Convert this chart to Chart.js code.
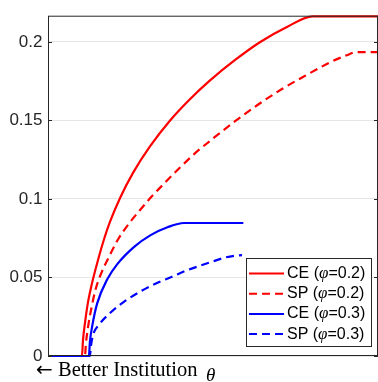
<!DOCTYPE html>
<html>
<head>
<meta charset="utf-8">
<script src="https://cdn.jsdelivr.net/npm/chart.js@4/dist/chart.umd.min.js"></script>
<style>
html, body { margin: 0; padding: 0; background: #fff; }
</style>
</head>
<body>
<canvas id="myChart" width="378" height="382"></canvas>
<script>
// theta positions (0 = left edge, 1 = right edge) and values
const ceLowTheta = [0, 0.103, 0.106, 0.112, 0.121, 0.133, 0.152, 0.170, 0.188, 0.218, 0.258, 0.309, 0.370, 0.430, 0.491, 0.567, 0.642, 0.724, 0.802, 1];
const ceLowValues = [0, 0, 0.010, 0.021, 0.034, 0.046, 0.0615, 0.0745, 0.0855, 0.1005, 0.1168, 0.1335, 0.150, 0.1635, 0.1755, 0.1885, 0.1998, 0.2095, 0.2163, 0.2163];

const spLowTheta = [0, 0.112, 0.115, 0.121, 0.132, 0.145, 0.163, 0.188, 0.213, 0.246, 0.279, 0.314, 0.355, 0.400, 0.445, 0.500, 0.567, 0.636, 0.709, 0.784, 0.855, 0.905, 0.933, 1];
const spLowValues = [0, 0, 0.008, 0.018, 0.031, 0.043, 0.0535, 0.0645, 0.0745, 0.0845, 0.093, 0.1015, 0.1105, 0.120, 0.129, 0.1385, 0.1495, 0.160, 0.170, 0.179, 0.187, 0.1915, 0.1935, 0.1935];

const ceHighTheta = [0, 0.124, 0.127, 0.134, 0.149, 0.180, 0.210, 0.261, 0.311, 0.362, 0.412, 0.592];
const ceHighValues = [0, 0, 0.009, 0.019, 0.0335, 0.049, 0.0585, 0.0695, 0.077, 0.082, 0.0847, 0.0847];

const spHighTheta = [0, 0.127, 0.130, 0.136, 0.155, 0.189, 0.230, 0.279, 0.327, 0.376, 0.418, 0.461, 0.497, 0.533, 0.564, 0.588];
const spHighValues = [0, 0, 0.006, 0.013, 0.020, 0.0275, 0.0345, 0.041, 0.0462, 0.0505, 0.0543, 0.0575, 0.060, 0.0625, 0.0638, 0.0642];

const seriesLabels = ['CE (φ=0.2)', 'SP (φ=0.2)', 'CE (φ=0.3)', 'SP (φ=0.3)'];
const yTickValues = [0, 0.05, 0.1, 0.15, 0.2];
const yTickLabels = ['0', '0.05', '0.1', '0.15', '0.2'];
const yMax = 0.2167;

const dash = [8, 5];

function toPoints(xs, ys) {
    return xs.map((x, i) => ({ x: x, y: ys[i] }));
}

// frame, inward ticks, legend box and the bottom caption
const extrasPlugin = {
    id: 'extras',
    afterDraw(chart) {
        const ctx = chart.ctx;
        const a = chart.chartArea;
        const y = chart.scales.y;
        ctx.save();

        // box around the axes
        ctx.strokeStyle = '#262626';
        ctx.lineWidth = 1;
        ctx.strokeRect(a.left + 0.5, a.top + 0.5, a.right - a.left - 1, a.bottom - a.top - 1);

        // ticks pointing inwards on both sides
        yTickValues.forEach(v => {
            const py = Math.round(y.getPixelForValue(v)) + 0.5;
            ctx.beginPath();
            ctx.moveTo(a.left, py);
            ctx.lineTo(a.left + 4, py);
            ctx.moveTo(a.right - 4, py);
            ctx.lineTo(a.right, py);
            ctx.stroke();
        });

        // legend
        const boxW = 125, boxH = 88;
        const bx = a.right - 7 - boxW;
        const by = a.bottom - 10 - boxH;
        ctx.fillStyle = '#fff';
        ctx.fillRect(bx, by, boxW, boxH);
        ctx.strokeStyle = '#262626';
        ctx.strokeRect(bx + 0.5, by + 0.5, boxW, boxH);

        chart.data.datasets.forEach((ds, i) => {
            const ry = by + 15.5 + i * 20.2;
            ctx.strokeStyle = ds.borderColor;
            ctx.lineWidth = 2;
            ctx.setLineDash(ds.borderDash || []);
            ctx.beginPath();
            ctx.moveTo(bx + 3, ry);
            ctx.lineTo(bx + 38, ry);
            ctx.stroke();
            ctx.setLineDash([]);

            const parts = ds.label.split('φ');
            let tx = bx + 41;
            ctx.fillStyle = '#000';
            ctx.textBaseline = 'middle';
            ctx.textAlign = 'left';
            ctx.font = '16px "Liberation Sans", Arial, sans-serif';
            ctx.fillText(parts[0], tx, ry);
            tx += ctx.measureText(parts[0]).width;
            ctx.font = 'italic 17px "Liberation Serif", serif';
            ctx.fillText('φ', tx, ry);
            tx += ctx.measureText('φ').width;
            ctx.font = '16px "Liberation Sans", Arial, sans-serif';
            ctx.fillText(parts[1], tx, ry);
        });

        // caption under the x axis
        ctx.fillStyle = '#000';
        ctx.textBaseline = 'alphabetic';
        ctx.font = '20px "DejaVu Sans", sans-serif';
        ctx.fillText('←', a.left - 12, a.bottom + 20);
        ctx.font = '20.5px "Liberation Serif", serif';
        ctx.fillText('Better Institution', a.left + 10, a.bottom + 20);
        ctx.font = 'italic 19px "Liberation Serif", serif';
        ctx.fillText('θ', a.left + 158, a.bottom + 25);

        ctx.restore();
    }
};

const ctx = document.getElementById('myChart').getContext('2d');
const chart = new Chart(ctx, {
    type: 'line',
    data: {
        datasets: [
            {
                label: seriesLabels[0],
                data: toPoints(ceLowTheta, ceLowValues),
                borderColor: '#ff0000',
                order: 4
            },
            {
                label: seriesLabels[1],
                data: toPoints(spLowTheta, spLowValues),
                borderColor: '#ff0000',
                borderDash: dash,
                order: 3
            },
            {
                label: seriesLabels[2],
                data: toPoints(ceHighTheta, ceHighValues),
                borderColor: '#0000ff',
                order: 2
            },
            {
                label: seriesLabels[3],
                data: toPoints(spHighTheta, spHighValues),
                borderColor: '#0000ff',
                borderDash: dash,
                order: 1
            }
        ]
    },
    options: {
        responsive: false,
        animation: false,
        layout: { padding: { top: 6, bottom: 26, left: 0, right: 0 } },
        datasets: {
            line: {
                borderWidth: 2.2,
                pointRadius: 0,
                fill: false,
                cubicInterpolationMode: 'monotone',
                clip: 4
            }
        },
        plugins: {
            legend: { display: false },
            tooltip: { enabled: false }
        },
        scales: {
            x: {
                type: 'linear',
                min: 0,
                max: 1,
                display: false
            },
            y: {
                min: 0,
                max: yMax,
                afterBuildTicks: scale => {
                    scale.ticks = yTickValues.map(v => ({ value: v }));
                },
                afterFit: scale => {
                    scale.width = 48;
                },
                border: { display: false },
                grid: {
                    color: '#e6e6e6',
                    lineWidth: 1,
                    drawTicks: false
                },
                ticks: {
                    padding: 5.5,
                    color: '#262626',
                    font: { family: '"Liberation Sans", Arial, sans-serif', size: 17 },
                    callback: (value, index) => yTickLabels[index]
                }
            }
        }
    },
    plugins: [extrasPlugin]
});
</script>
</body>
</html>
